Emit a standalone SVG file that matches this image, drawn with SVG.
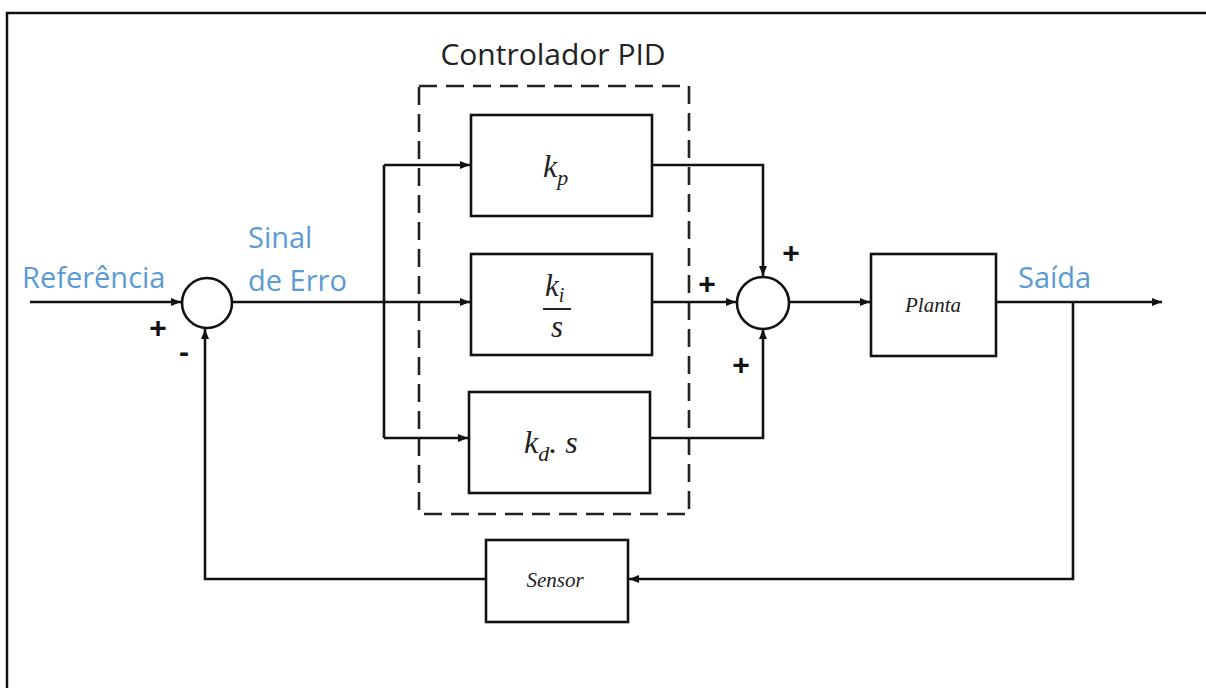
<svg xmlns="http://www.w3.org/2000/svg" width="1206" height="688" viewBox="0 0 1206 688">
<defs>
<marker id="ah" markerWidth="10" markerHeight="8" refX="10" refY="4" orient="auto" markerUnits="userSpaceOnUse">
<path d="M0,0 L10,4 L0,8 Z" fill="#111"/>
</marker>
<style>
.ln{fill:none;stroke:#111;stroke-width:2.6}
.bx{fill:#fff;stroke:#111;stroke-width:2.6}
.lbl{font-family:"Open Sans","Liberation Sans",sans-serif;font-size:29px;fill:#5b9bd5}
.ttl{font-family:"Open Sans","Liberation Sans",sans-serif;font-size:30px;fill:#222}
.sg{font-family:"Liberation Sans",sans-serif;font-size:30px;font-weight:bold;fill:#111}
.m{font-family:"Liberation Serif","DejaVu Serif",serif;font-style:italic;fill:#222}
</style>
</defs>
<rect x="0" y="0" width="1206" height="688" fill="#fff"/>
<path d="M7,700 L7,13 L1215,13" fill="none" stroke="#111" stroke-width="2.5"/>

<g id="pid-frame">
<rect x="419" y="86" width="270" height="428" fill="none" stroke="#222" stroke-width="2.6" stroke-dasharray="18,9"/>
<text class="ttl" x="553" y="65" text-anchor="middle">Controlador PID</text>
</g>

<g id="connectors">
<line class="ln" x1="30" y1="302" x2="181" y2="302" marker-end="url(#ah)"/>
<path class="ln" d="M233,302 L384,302"/>
<path class="ln" d="M384,165 L384,438"/>
<line class="ln" x1="384" y1="165" x2="470" y2="165" marker-end="url(#ah)"/>
<line class="ln" x1="384" y1="302" x2="470" y2="302" marker-end="url(#ah)"/>
<line class="ln" x1="384" y1="438" x2="468" y2="438" marker-end="url(#ah)"/>
<path class="ln" d="M652,165 L763,165 L763,276" marker-end="url(#ah)"/>
<line class="ln" x1="652" y1="302" x2="736" y2="302" marker-end="url(#ah)"/>
<path class="ln" d="M650,438 L763,438 L763,329" marker-end="url(#ah)"/>
<line class="ln" x1="790" y1="302" x2="870" y2="302" marker-end="url(#ah)"/>
<line class="ln" x1="996" y1="302" x2="1162" y2="302" marker-end="url(#ah)"/>
<path class="ln" d="M1073,302 L1073,579 L629,579" marker-end="url(#ah)"/>
<path class="ln" d="M486,579 L205,579 L205,329" marker-end="url(#ah)"/>
</g>

<g id="sum1">
<circle class="bx" cx="207" cy="303" r="25"/>
<text class="sg" x="158" y="338" text-anchor="middle">+</text>
<text class="sg" x="184" y="362" text-anchor="middle">-</text>
</g>

<g id="sum2">
<circle class="bx" cx="763" cy="303" r="26"/>
<text class="sg" x="791" y="263" text-anchor="middle">+</text>
<text class="sg" x="707" y="294" text-anchor="middle">+</text>
<text class="sg" x="741" y="375" text-anchor="middle">+</text>
</g>

<g id="kp">
<rect class="bx" x="471" y="115" width="181" height="101"/>
<text class="m" x="543" y="177" font-size="32">k<tspan font-size="22" dy="8">p</tspan></text>
</g>

<g id="ki">
<rect class="bx" x="471" y="254" width="181" height="101"/>
<text class="m" x="545" y="296" font-size="31">k<tspan font-size="20" dy="6">i</tspan></text>
<line x1="543" y1="309" x2="571" y2="309" stroke="#222" stroke-width="2"/>
<text class="m" x="557" y="337" font-size="31" text-anchor="middle">s</text>
</g>

<g id="kd">
<rect class="bx" x="469" y="392" width="181" height="101"/>
<text class="m" x="524" y="453" font-size="32">k<tspan font-size="22" dy="8">d</tspan><tspan dy="-8">. s</tspan></text>
</g>

<g id="planta">
<rect class="bx" x="871" y="254" width="125" height="102"/>
<text class="m" x="933" y="312" font-size="21" text-anchor="middle">Planta</text>
</g>

<g id="sensor">
<rect class="bx" x="486" y="540" width="142" height="82"/>
<text class="m" x="555" y="587" font-size="21" text-anchor="middle">Sensor</text>
</g>

<g id="labels">
<text class="lbl" x="22" y="288">Referência</text>
<text class="lbl" x="248" y="248">Sinal</text>
<text class="lbl" x="248" y="291">de Erro</text>
<text class="lbl" x="1018" y="288">Saída</text>
</g>
</svg>
